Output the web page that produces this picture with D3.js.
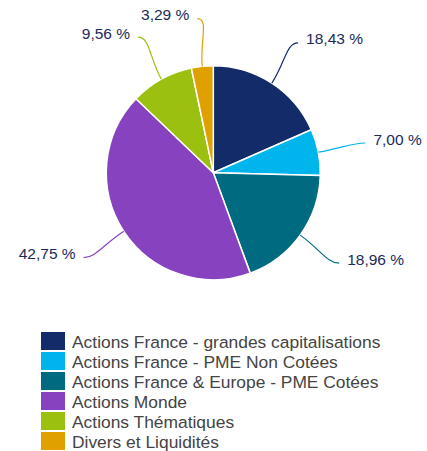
<!DOCTYPE html>
<html lang="fr">
<head>
    <meta charset="UTF-8">
    <script src="https://d3js.org/d3.v7.min.js"></script>
    <style>
        body {
            margin: 0;
            background: #fff;
            font-family: "Liberation Sans", Arial, sans-serif;
        }
        .pct {
            font-size: 15.5px;
            fill: #1b2a5a;
        }
        .legend-text {
            font-size: 17.4px;
            fill: #444;
        }
    </style>
</head>
<body>
    <div id="chart"></div>

    <script>
        const categories = [
            "Actions France - grandes capitalisations",
            "Actions France - PME Non Cotées",
            "Actions France & Europe - PME Cotées",
            "Actions Monde",
            "Actions Thématiques",
            "Divers et Liquidités"
        ];
        const values = [18.43, 7.00, 18.96, 42.75, 9.56, 3.29];
        const colors = ["#132b68", "#00b4ec", "#006a80", "#8743bf", "#9bc00f", "#e0a100"];

        const width = 427, height = 451;
        const cx = 213.3, cy = 172.7, radius = 107, labelRadius = 155;

        const data = categories.map((c, i) => ({ name: c, value: values[i], color: colors[i] }));

        const svg = d3.select("#chart")
            .append("svg")
            .attr("width", width)
            .attr("height", height);

        const g = svg.append("g")
            .attr("transform", `translate(${cx},${cy})`);

        const pie = d3.pie()
            .value(d => d.value)
            .sort(null);

        const arc = d3.arc()
            .innerRadius(0)
            .outerRadius(radius);

        const arcs = pie(data);

        g.selectAll(".slice")
            .data(arcs)
            .enter()
            .append("path")
            .attr("class", "slice")
            .attr("d", arc)
            .attr("fill", d => d.data.color)
            .attr("stroke", "#fff")
            .attr("stroke-width", 1.5)
            .attr("stroke-linejoin", "round");

        // point on circle at angle a (0 = top, clockwise)
        const pt = (a, r) => [Math.sin(a) * r, -Math.cos(a) * r];

        // connectors: leave the pie radially, end flat at the label
        g.selectAll(".connector")
            .data(arcs)
            .enter()
            .append("path")
            .attr("class", "connector")
            .attr("fill", "none")
            .attr("stroke", d => d.data.color)
            .attr("stroke-width", 1.2)
            .attr("d", d => {
                const mid = (d.startAngle + d.endAngle) / 2;
                const s = pt(mid, radius);
                const c1 = pt(mid, radius + 25);
                const e = pt(mid, labelRadius);
                const dir = e[0] >= 0 ? 1 : -1;
                const c2 = [e[0] - dir * 12, e[1]];
                return `M${s[0]},${s[1]}C${c1[0]},${c1[1]} ${c2[0]},${c2[1]} ${e[0]},${e[1]}`;
            });

        g.selectAll(".pct")
            .data(arcs)
            .enter()
            .append("text")
            .attr("class", "pct")
            .attr("x", d => {
                const e = pt((d.startAngle + d.endAngle) / 2, labelRadius);
                return e[0] + (e[0] >= 0 ? 8 : -8);
            })
            .attr("y", d => pt((d.startAngle + d.endAngle) / 2, labelRadius)[1] + 1.5)
            .attr("text-anchor", d => pt((d.startAngle + d.endAngle) / 2, labelRadius)[0] >= 0 ? "start" : "end")
            .text(d => d.data.value.toFixed(2).replace(".", ",") + " %");

        // legend
        const legend = svg.append("g")
            .attr("transform", "translate(41,332)");

        const row = legend.selectAll(".row")
            .data(data)
            .enter()
            .append("g")
            .attr("class", "row")
            .attr("transform", (d, i) => `translate(0,${i * 20})`);

        row.append("rect")
            .attr("width", 24)
            .attr("height", 18)
            .attr("fill", d => d.color);

        row.append("text")
            .attr("class", "legend-text")
            .attr("x", 31)
            .attr("y", 16.3)
            .text(d => d.name);
    </script>
</body>
</html>
